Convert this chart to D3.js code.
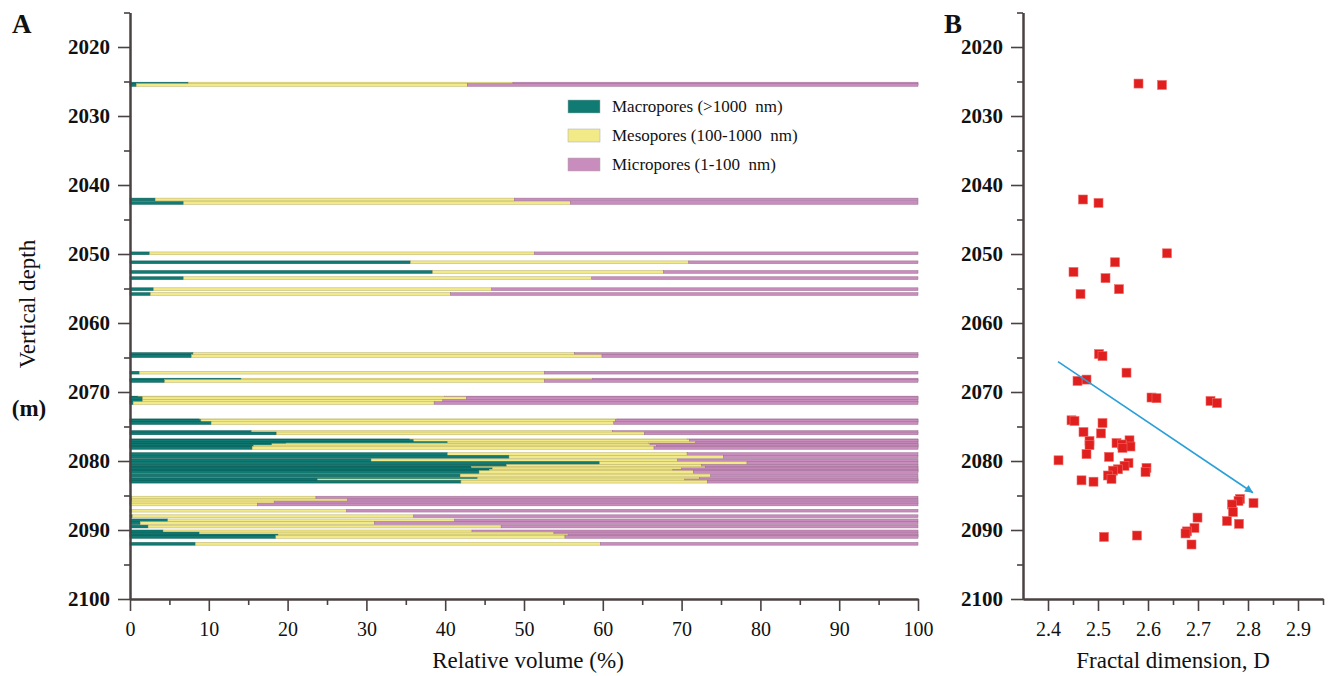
<!DOCTYPE html>
<html>
<head>
<meta charset="utf-8">
<script src="https://cdn.jsdelivr.net/npm/d3@7"></script>
<style>
  body { margin: 0; background: #fff; }
  svg text { font-family: "Liberation Serif", "Times New Roman", serif !important; fill: #111; }
</style>
</head>
<body>
<div id="chart"></div>
<script>
// sample depths (m), shared by both panels
var depth = [2025.3, 2025.5, 2042.1, 2042.6, 2049.9, 2051.2, 2052.6, 2053.5, 2055.1, 2055.8,
             2064.5, 2064.8, 2067.2, 2068.2, 2068.4, 2070.8, 2070.9, 2071.3, 2071.6, 2074.1,
             2074.2, 2074.5, 2075.8, 2076.0, 2077.0, 2077.1, 2077.4, 2077.6, 2077.7, 2077.9,
             2078.1, 2079.0, 2079.4, 2079.9, 2080.3, 2080.7, 2081.0, 2081.2, 2081.4, 2081.6,
             2082.1, 2082.6, 2082.8, 2083.0, 2085.3, 2085.7, 2086.0, 2086.3, 2087.2, 2088.0,
             2088.6, 2089.0, 2089.5, 2090.2, 2090.5, 2090.8, 2091.0, 2092.0];

// relative volume (%)
var macro = [7.4, 0.8, 3.2, 6.8, 2.5, 35.6, 38.4, 6.8, 3.0, 2.6,
             8.0, 7.8, 1.2, 14.1, 4.4, 1.0, 1.6, 1.6, 0.4, 8.8,
             9.0, 10.3, 15.4, 18.6, 35.5, 36.0, 40.3, 19.8, 18.0, 15.7,
             15.5, 40.3, 48.1, 30.6, 59.6, 47.8, 43.3, 46.0, 45.6, 44.3,
             41.9, 44.1, 23.8, 42.0, 0.2, 0.2, 0.1, 0.1, 0.2, 0.3,
             4.8, 1.3, 2.3, 4.2, 8.8, 18.8, 18.5, 8.3];
var meso  = [41.2, 42.0, 45.6, 49.1, 48.8, 35.3, 29.3, 51.8, 42.9, 38.1,
             48.4, 52.1, 51.4, 44.6, 48.2, 38.9, 41.1, 38.1, 38.2, 53.0,
             52.6, 51.1, 45.8, 46.7, 35.2, 35.0, 31.5, 46.0, 48.0, 51.1,
             51.0, 30.4, 27.2, 38.9, 18.7, 24.7, 29.7, 24.0, 23.3, 27.2,
             31.8, 28.2, 46.6, 31.3, 23.4, 27.4, 18.2, 16.1, 27.3, 35.7,
             36.4, 29.7, 44.8, 39.2, 45.0, 36.8, 36.7, 51.4];
var micro = [51.4, 57.2, 51.2, 44.1, 48.7, 29.1, 32.3, 41.4, 54.1, 59.3,
             43.6, 40.1, 47.4, 41.3, 47.4, 60.1, 57.3, 60.3, 61.4, 38.2,
             38.4, 38.6, 38.8, 34.7, 29.3, 29.0, 28.2, 34.2, 34.0, 33.2,
             33.5, 29.3, 24.7, 30.5, 21.7, 27.5, 27.0, 30.0, 31.1, 28.5,
             26.3, 27.7, 29.6, 26.7, 76.4, 72.4, 81.7, 83.8, 72.5, 64.0,
             58.8, 69.0, 52.9, 56.6, 46.2, 44.4, 44.8, 40.3];

// depth of each point in panel B (m)
var pointDepth = [2025.3, 2025.5, 2042.1, 2042.6, 2049.9, 2051.2, 2052.6, 2053.5, 2055.1, 2055.8,
                  2064.5, 2064.8, 2067.2, 2068.2, 2068.4, 2070.8, 2070.9, 2071.3, 2071.6, 2074.1,
                  2074.2, 2074.5, 2075.8, 2076.0, 2077.0, 2077.1, 2077.4, 2077.6, 2077.7, 2077.9,
                  2078.1, 2079.0, 2079.4, 2079.9, 2080.3, 2080.7, 2081.0, 2081.2, 2081.4, 2081.6,
                  2082.1, 2082.6, 2082.8, 2083.0, 2085.5, 2085.8, 2086.1, 2086.3, 2087.4, 2088.2,
                  2088.7, 2089.1, 2089.7, 2090.2, 2090.5, 2090.8, 2091.0, 2092.1];
// fractal dimension D
var fractalD = [2.581, 2.628, 2.470, 2.501, 2.638, 2.534, 2.451, 2.515, 2.542, 2.465,
                2.502, 2.509, 2.557, 2.477, 2.459, 2.607, 2.617, 2.725, 2.738, 2.447,
                2.453, 2.509, 2.471, 2.506, 2.563, 2.483, 2.537, 2.548, 2.483, 2.565,
                2.549, 2.477, 2.522, 2.421, 2.561, 2.553, 2.597, 2.540, 2.530, 2.595,
                2.520, 2.527, 2.467, 2.491, 2.784, 2.781, 2.811, 2.768, 2.770, 2.699,
                2.758, 2.782, 2.693, 2.678, 2.675, 2.578, 2.512, 2.687];

var seriesKeys = ["macro", "meso", "micro"];
var seriesNames = ["Macropores (>1000  nm)", "Mesopores (100-1000  nm)", "Micropores (1-100  nm)"];
var seriesColors = ["#0f7b73", "#f2e987", "#c98dbd"];
var seriesStroke = ["#0b5752", "#b7ae6a", "#9a6d90"];

var depthTicks = [2020, 2030, 2040, 2050, 2060, 2070, 2080, 2090, 2100];
var depthMinor = [2015, 2025, 2035, 2045, 2055, 2065, 2075, 2085, 2095];
var volumeTicks = [0, 10, 20, 30, 40, 50, 60, 70, 80, 90, 100];
var volumeMinor = [5, 15, 25, 35, 45, 55, 65, 75, 85, 95];
var fractalTicks = [2.4, 2.5, 2.6, 2.7, 2.8, 2.9];
var fractalMinor = [2.45, 2.55, 2.65, 2.75, 2.85, 2.95];

// trend arrow in panel B: [D, depth]
var trendStart = [2.42, 2065.6];
var trendEnd = [2.81, 2084.6];

var W = 1333, H = 676;
var svg = d3.select("#chart").append("svg")
    .attr("width", W).attr("height", H);

var y = d3.scaleLinear().domain([2015, 2100]).range([12.5, 599]);
var xA = d3.scaleLinear().domain([0, 100]).range([130, 918]);
var xB = d3.scaleLinear().domain([2.35, 2.95]).range([1023, 1323]);

var barHalf = 0.2; // half thickness of one sample bar (m)

// stacked data
var rows = depth.map(function(d, i) {
    return { depth: d, macro: macro[i], meso: meso[i], micro: micro[i] };
});
var stacked = d3.stack().keys(seriesKeys)(rows);

var samples = rows.map(function(r, i) {
    return { depth: r.depth, segs: stacked.map(function(s, k) { return { k: k, v0: s[i][0], v1: s[i][1] }; }) };
});

// bars, one group per sample so deeper samples sit on top
var barG = svg.append("g");
var sg = barG.selectAll(".sample")
    .data(samples)
    .enter().append("g")
    .attr("class", "sample");

sg.selectAll("rect")
    .data(function(d) { return d.segs.map(function(s) { s.depth = d.depth; return s; }); })
    .enter().append("rect")
    .attr("x", function(s) { return xA(s.v0); })
    .attr("width", function(s) { return xA(s.v1) - xA(s.v0); })
    .attr("y", function(s) { return y(s.depth - barHalf); })
    .attr("height", function(s) { return y(s.depth + barHalf) - y(s.depth - barHalf); })
    .attr("fill", function(s) { return seriesColors[s.k]; })
    .attr("stroke", function(s) { return seriesStroke[s.k]; })
    .attr("stroke-width", 0.5);

// legend
var leg = svg.append("g").attr("transform", "translate(568,100)");
seriesNames.forEach(function(name, i) {
    leg.append("rect")
        .attr("x", 0).attr("y", i * 29)
        .attr("width", 32).attr("height", 13)
        .attr("fill", seriesColors[i])
        .attr("stroke", "#aaa").attr("stroke-width", 0.5);
    leg.append("text")
        .attr("x", 44).attr("y", i * 29 + 12)
        .attr("font-size", 17)
        .style("white-space", "pre")
        .text(name);
});

// scatter
svg.append("g").selectAll("rect")
    .data(pointDepth)
    .enter().append("rect")
    .attr("x", function(d, i) { return xB(fractalD[i]) - 4.5; })
    .attr("y", function(d) { return y(d) - 4.5; })
    .attr("width", 9).attr("height", 9)
    .attr("fill", "#e0201e")
    .attr("stroke", "#f06a66").attr("stroke-width", 0.6);

// trend arrow
svg.append("defs").append("marker")
    .attr("id", "arrow")
    .attr("viewBox", "0 0 10 10")
    .attr("refX", 10).attr("refY", 5)
    .attr("markerWidth", 11).attr("markerHeight", 8)
    .attr("markerUnits", "userSpaceOnUse")
    .attr("orient", "auto")
    .append("path").attr("d", "M0,0L10,5L0,10z").attr("fill", "#2a9fd8");

svg.append("line")
    .attr("x1", xB(trendStart[0])).attr("y1", y(trendStart[1]))
    .attr("x2", xB(trendEnd[0])).attr("y2", y(trendEnd[1]))
    .attr("stroke", "#2a9fd8").attr("stroke-width", 1.6)
    .attr("marker-end", "url(#arrow)");

// axes
function styleAxis(g, bold, fs) {
    g.attr("font-family", null);
    g.select(".domain").attr("stroke", "#4a4242").attr("stroke-width", 2);
    g.selectAll(".tick line").attr("stroke", "#4a4242").attr("stroke-width", 1.6);
    g.selectAll(".tick text")
        .attr("font-size", fs)
        .attr("font-weight", bold ? "bold" : "normal")
        .attr("fill", "#111");
}

function addY(x0) {
    svg.append("g").attr("transform", "translate(" + x0 + ",0)")
        .call(d3.axisLeft(y).tickValues(depthMinor).tickSize(6).tickSizeOuter(0).tickFormat(""))
        .call(function(g) { styleAxis(g, true, 21); });
    svg.append("g").attr("transform", "translate(" + x0 + ",0)")
        .call(d3.axisLeft(y).tickValues(depthTicks).tickSize(12).tickPadding(8).tickSizeOuter(0).tickFormat(d3.format("d")))
        .call(function(g) { styleAxis(g, true, 21); });
}
addY(130);
addY(1023);

svg.append("g").attr("transform", "translate(0,599)")
    .call(d3.axisBottom(xA).tickValues(volumeMinor).tickSize(6).tickSizeOuter(0).tickFormat(""))
    .call(function(g) { styleAxis(g, false, 20); });
svg.append("g").attr("transform", "translate(0,599)")
    .call(d3.axisBottom(xA).tickValues(volumeTicks).tickSize(12).tickPadding(11).tickSizeOuter(0).tickFormat(d3.format("d")))
    .call(function(g) { styleAxis(g, false, 20); });

svg.append("g").attr("transform", "translate(0,599)")
    .call(d3.axisBottom(xB).tickValues(fractalMinor).tickSize(6).tickSizeOuter(0).tickFormat(""))
    .call(function(g) { styleAxis(g, false, 20); });
svg.append("g").attr("transform", "translate(0,599)")
    .call(d3.axisBottom(xB).tickValues(fractalTicks).tickSize(12).tickPadding(11).tickSizeOuter(0).tickFormat(d3.format(".1f")))
    .call(function(g) { styleAxis(g, false, 20); });

// titles
svg.append("text").attr("x", 12).attr("y", 33)
    .attr("font-size", 27).attr("font-weight", "bold").text("A");
svg.append("text").attr("x", 944).attr("y", 33)
    .attr("font-size", 27).attr("font-weight", "bold").text("B");

svg.append("text")
    .attr("transform", "translate(35,304) rotate(-90)")
    .attr("text-anchor", "middle")
    .attr("font-size", 23)
    .text("Vertical depth");
svg.append("text")
    .attr("x", 29).attr("y", 416)
    .attr("text-anchor", "middle")
    .attr("font-size", 23)
    .attr("font-weight", "bold")
    .text("(m)");

svg.append("text")
    .attr("x", 528).attr("y", 668)
    .attr("text-anchor", "middle")
    .attr("font-size", 23)
    .text("Relative volume (%)");
svg.append("text")
    .attr("x", 1173).attr("y", 668)
    .attr("text-anchor", "middle")
    .attr("font-size", 23)
    .text("Fractal dimension, D");
</script>
</body>
</html>
